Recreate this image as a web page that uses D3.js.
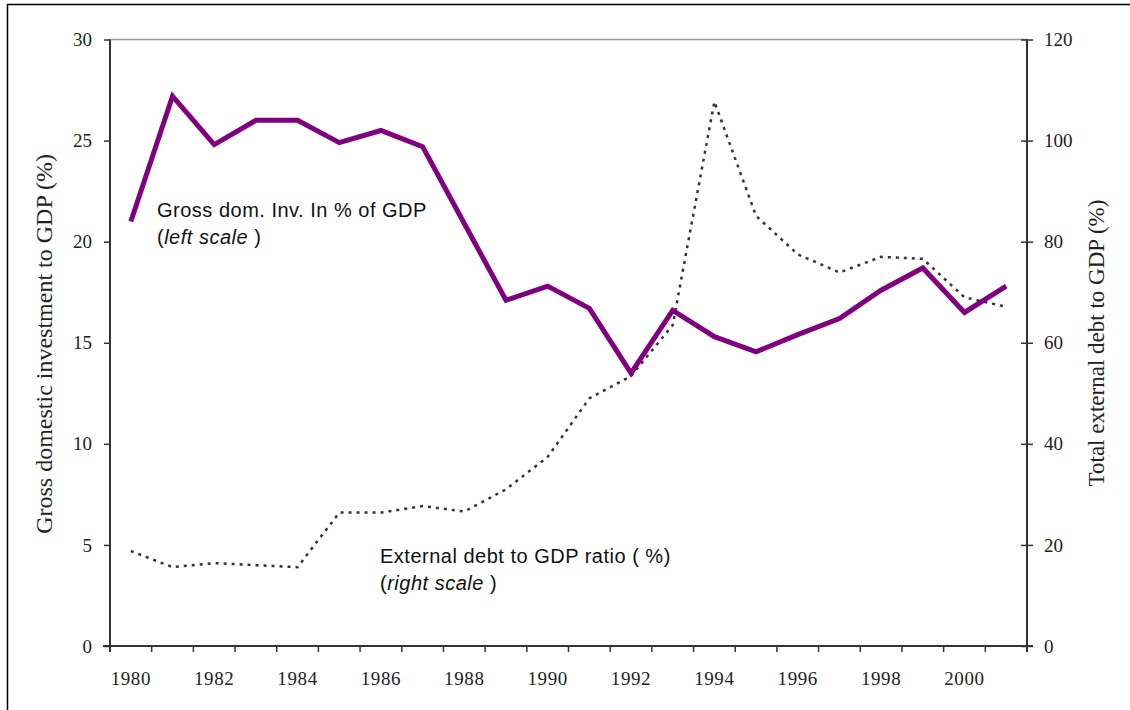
<!DOCTYPE html>
<html><head><meta charset="utf-8">
<script src="https://cdn.jsdelivr.net/npm/d3@7"></script>
<style>html,body{margin:0;padding:0;background:#fff}svg{display:block}</style>
</head><body>
<script>
const years = [1980,1981,1982,1983,1984,1985,1986,1987,1988,1989,1990,1991,1992,1993,1994,1995,1996,1997,1998,1999,2000,2001];
const investment = [21.0,27.2,24.8,26.0,26.0,24.9,25.5,24.7,20.9,17.1,17.8,16.7,13.5,16.6,15.3,14.55,15.4,16.2,17.6,18.7,16.5,17.8];
const debt = [18.8,15.6,16.4,16.0,15.6,26.4,26.4,27.7,26.6,31.0,37.4,49.0,53.4,63.5,107.7,85.1,77.5,73.9,77.0,76.6,69.0,67.1];
const leftTicks = [0,5,10,15,20,25,30];
const rightTicks = [0,20,40,60,80,100,120];
const xTickLabels = [1980,1982,1984,1986,1988,1990,1992,1994,1996,1998,2000];

const W=1130,H=710;
const L=110,R=1027,T=39.5,B=646;
const svg=d3.select("body").append("svg").attr("width",W).attr("height",H);
svg.append("rect").attr("width",W).attr("height",H).attr("fill","#fff");
svg.append("path").attr("d",`M7.5,${H} V4.5 H${W}`).attr("fill","none").attr("stroke","#000").attr("stroke-width",1.5);

const x=d3.scaleBand().domain(years).range([L,R]).paddingInner(0).paddingOuter(0);
const yL=d3.scaleLinear().domain([0,30]).range([B,T]);
const yR=d3.scaleLinear().domain([0,120]).range([B,T]);
const cx=d=>x(d)+x.bandwidth()/2;

const serif="'Liberation Serif','Times New Roman',serif";
const sans="'Liberation Sans',Arial,sans-serif";

svg.append("line").attr("x1",L).attr("x2",R).attr("y1",T).attr("y2",T).attr("stroke","#999").attr("stroke-width",1.5);

const gl=svg.append("g").attr("transform",`translate(${L},0)`)
 .call(d3.axisLeft(yL).tickValues(leftTicks).tickSize(6).tickPadding(12));
const gr=svg.append("g").attr("transform",`translate(${R},0)`)
 .call(d3.axisRight(yR).tickValues(rightTicks).tickSize(6).tickPadding(11));
gr.selectAll(".tick line").attr("x1",-6);
const gb=svg.append("g").attr("transform",`translate(0,${B})`)
 .call(d3.axisBottom(x).tickValues([]).tickSize(0));
const bounds=d3.range(years.length+1).map(i=>L+i*x.step());
gb.selectAll(".bt").data(bounds).join("line").attr("class","bt")
 .attr("x1",d=>d).attr("x2",d=>d).attr("y1",0).attr("y2",6).attr("stroke","#333").attr("stroke-width",1.5);
gb.selectAll(".bl").data(xTickLabels).join("text").attr("class","bl")
 .attr("x",d=>cx(d)).attr("y",39).attr("text-anchor","middle").attr("letter-spacing",0.6)
 .attr("font-family",serif).attr("font-size",19).attr("fill","#222").text(d=>d);
gb.select(".domain").attr("d",`M${L-7},0H${R+6}`);

[gl,gr,gb].forEach(g=>{
  g.select(".domain").attr("stroke","#333").attr("stroke-width",2);
  g.selectAll(".tick line").attr("stroke","#333").attr("stroke-width",1.5);
  g.selectAll(".tick text").attr("font-family",serif).attr("font-size",19).attr("fill","#222");
});
gl.select(".domain").attr("d",`M0,${T}V${B+6}`);
gr.select(".domain").attr("d",`M0,${T}V${B+6}`);

svg.append("text").attr("transform",`translate(52,344) rotate(-90)`)
 .attr("text-anchor","middle").attr("font-family",serif).attr("font-size",24).attr("fill","#222")
 .text("Gross domestic investment to GDP (%)");
svg.append("text").attr("transform",`translate(1104,343) rotate(-90)`)
 .attr("text-anchor","middle").attr("font-family",serif).attr("font-size",23).attr("fill","#222")
 .text("Total external debt to GDP (%)");

svg.append("path").datum(debt.map((v,i)=>[years[i],v]))
 .attr("d",d3.line().x(d=>cx(d[0])).y(d=>yR(d[1])))
 .attr("fill","none").attr("stroke","#333").attr("stroke-width",2.5).attr("stroke-dasharray","3,5");

svg.append("path").datum(investment.map((v,i)=>[years[i],v]))
 .attr("d",d3.line().x(d=>cx(d[0])).y(d=>yL(d[1])))
 .attr("fill","none").attr("stroke","#800080").attr("stroke-width",5).attr("stroke-linejoin","miter");

function note(xp,yp,line1,ital){
  const t=svg.append("text").attr("font-family",sans).attr("font-size",20).attr("letter-spacing",0.5).attr("fill","#111");
  t.append("tspan").attr("x",xp).attr("y",yp).text(line1);
  const t2=svg.append("text").attr("font-family",sans).attr("font-size",20).attr("letter-spacing",0.5).attr("fill","#111").attr("x",xp).attr("y",yp+27);
  t2.append("tspan").text("(");
  t2.append("tspan").attr("font-style","italic").text(ital);
  t2.append("tspan").text(" )");
}
note(157,217,"Gross dom. Inv. In % of GDP","left scale");
note(380,563,"External debt to GDP ratio ( %)","right scale");
</script>
</body></html>
